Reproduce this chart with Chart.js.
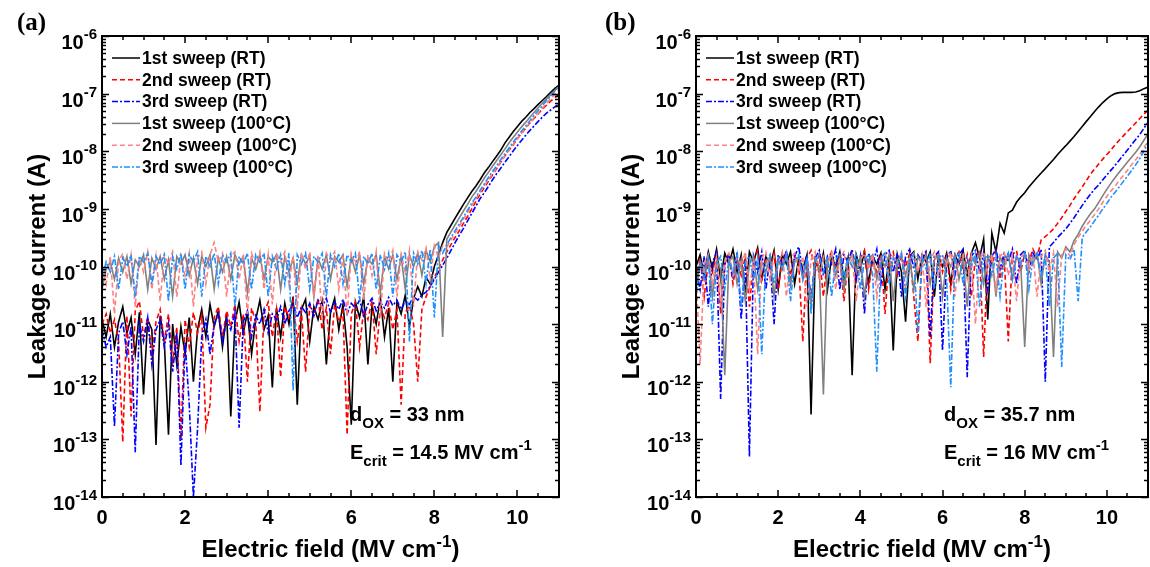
<!DOCTYPE html>
<html>
<head>
<meta charset="utf-8">
<script src="https://cdn.jsdelivr.net/npm/chart.js@4.4.1/dist/chart.umd.min.js"></script>
<style>
  html, body { margin: 0; padding: 0; background: #fff; overflow: hidden; }
  #wrap { position: relative; width: 1150px; height: 567px; overflow: hidden; }
  canvas { position: absolute; top: 0; }
</style>
</head>
<body>
<div id="wrap">
  <canvas id="chartA" width="578" height="567" style="left:0"></canvas>
  <canvas id="chartB" width="572" height="567" style="left:578px"></canvas>
</div>
<script>
// #region Data
// ---------------------------------------
// electric field (MV/cm), shared by every sweep
const field = [
  0, 0.1, 0.2, 0.3, 0.4, 0.5, 0.6, 0.7, 0.8, 0.9,
  1, 1.1, 1.2, 1.3, 1.4, 1.5, 1.6, 1.7, 1.8, 1.9,
  2, 2.1, 2.2, 2.3, 2.4, 2.5, 2.6, 2.7, 2.8, 2.9,
  3, 3.1, 3.2, 3.3, 3.4, 3.5, 3.6, 3.7, 3.8, 3.9,
  4, 4.1, 4.2, 4.3, 4.4, 4.5, 4.6, 4.7, 4.8, 4.9,
  5, 5.1, 5.2, 5.3, 5.4, 5.5, 5.6, 5.7, 5.8, 5.9,
  6, 6.1, 6.2, 6.3, 6.4, 6.5, 6.6, 6.7, 6.8, 6.9,
  7, 7.1, 7.2, 7.3, 7.4, 7.5, 7.6, 7.7, 7.8, 7.9,
  8, 8.1, 8.2, 8.3, 8.4, 8.5, 8.6, 8.7, 8.8, 8.9,
  9, 9.1, 9.2, 9.3, 9.4, 9.5, 9.6, 9.7, 9.8, 9.9,
  10, 10.1, 10.2, 10.3, 10.4, 10.5, 10.6, 10.7, 10.8, 10.9,
  11
];

const legendLabels = [
  "1st sweep (RT)", "2nd sweep (RT)", "3rd sweep (RT)",
  "1st sweep (100°C)", "2nd sweep (100°C)", "3rd sweep (100°C)"
];

// panel (a): d_OX = 33 nm, leakage current (A)
const a1stRT = [
  1.2e-11, 6e-12, 1.5e-11, 4e-12, 1.1e-11, 2e-11, 7e-12, 1.3e-11, 3e-12, 1.6e-11,
  6e-13, 1.2e-11, 8e-12, 8e-14, 1.4e-11, 5e-12, 1.2e-13, 1e-11, 2e-12, 9e-12,
  3e-12, 1.3e-11, 1e-12, 8e-12, 1.8e-11, 6e-12, 2.2e-11, 9e-12, 1.7e-11, 4e-12,
  1.5e-11, 2.5e-13, 1.1e-11, 2.4e-11, 7e-12, 1.6e-11, 3e-12, 1.2e-11, 2.6e-11, 8e-12,
  1.4e-11, 8e-13, 1.9e-11, 6e-12, 2.3e-11, 1e-11, 3e-11, 4e-13, 1.8e-11, 2.7e-11,
  5e-12, 2e-11, 1.2e-11, 2.5e-11, 2e-12, 1.6e-11, 2.8e-11, 8e-12, 2.2e-11, 4e-12,
  1.8e-13, 2.4e-11, 1.3e-11, 3e-11, 2e-12, 2.1e-11, 1e-11, 2.9e-11, 6e-12, 1.9e-11,
  1e-12, 2.5e-11, 1.5e-11, 3.2e-11, 9e-12, 2.8e-11, 4.5e-11, 3e-11, 6.5e-11, 5e-11,
  1e-10, 1.6e-10, 2.6e-10, 3.9e-10, 5.2e-10, 6.9e-10, 9.1e-10, 1.2e-9, 1.55e-9, 2e-9,
  2.5e-9, 3.2e-9, 4.2e-9, 5.2e-9, 6.6e-9, 8.3e-9, 1.05e-8, 1.4e-8, 1.75e-8, 2.2e-8,
  2.7e-8, 3.3e-8, 3.9e-8, 4.7e-8, 5.5e-8, 6.5e-8, 7.6e-8, 8.9e-8, 1.05e-7, 1.23e-7,
  1.4e-7
];
const a2ndRT = [
  1e-11, 1.5e-11, 7e-12, 1.2e-11, 5e-12, 9e-14, 1.4e-11, 2.5e-13, 1.7e-11, 2.5e-11,
  6e-12, 1.3e-11, 3e-12, 1.1e-11, 1.8e-11, 5e-12, 1.5e-11, 2e-12, 9e-12, 1e-13,
  1.2e-11, 4e-12, 1.6e-11, 7e-12, 1.4e-11, 1.6e-13, 4e-13, 1.3e-11, 2e-11, 6e-12,
  1.7e-11, 9e-12, 2.2e-11, 5e-12, 1.5e-11, 1e-12, 1.9e-11, 1.1e-11, 3e-13, 1.6e-11,
  2.4e-11, 6e-12, 1.8e-11, 1.2e-12, 2e-11, 1.3e-11, 2.6e-11, 5e-12, 1.7e-11, 1.5e-12,
  2.1e-11, 1.4e-11, 2.8e-11, 8e-12, 1.9e-11, 3e-12, 2.2e-11, 1.1e-11, 1.7e-11, 1.2e-13,
  1.5e-11, 2.4e-11, 4e-12, 1.8e-11, 1.2e-11, 2.6e-11, 3e-12, 1.9e-11, 1.3e-11, 2.3e-11,
  8e-12, 1.8e-11, 4e-13, 1.6e-11, 2.1e-11, 1e-11, 1e-12, 1.8e-11, 3e-11, 4.5e-11,
  6.5e-11, 9e-11, 1.3e-10, 1.8e-10, 2.4e-10, 3.2e-10, 4.2e-10, 5.6e-10, 7.4e-10, 1e-9,
  1.35e-9, 1.8e-9, 2.35e-9, 3e-9, 3.9e-9, 5e-9, 6.5e-9, 8.3e-9, 1.05e-8, 1.3e-8,
  1.66e-8, 2.05e-8, 2.5e-8, 3.1e-8, 3.7e-8, 4.5e-8, 5.4e-8, 6.3e-8, 7.4e-8, 8.5e-8,
  9.8e-8
];
const a3rdRT = [
  8e-12, 4e-12, 6e-12, 1.7e-13, 7e-12, 1.1e-11, 3e-12, 9e-12, 6e-14, 1e-11,
  5e-12, 1.3e-11, 2e-12, 8e-12, 1.2e-11, 4e-12, 1e-11, 1.5e-12, 7e-12, 3.5e-14,
  5e-12, 4e-13, 1e-14, 1.5e-13, 6e-12, 1.2e-11, 3e-12, 1e-11, 1.5e-11, 5e-12,
  1.2e-11, 8e-12, 1.6e-11, 1.6e-13, 1.1e-11, 1.7e-11, 6e-12, 1.4e-11, 1e-11, 1.8e-11,
  7e-12, 1.5e-11, 1.2e-11, 2e-11, 1e-11, 1.7e-11, 2.2e-11, 1.3e-11, 2e-11, 1.6e-11,
  2.3e-11, 1.4e-11, 2.6e-11, 2e-11, 2.8e-11, 1.6e-11, 2.4e-11, 1.8e-11, 2.7e-11, 1.5e-11,
  2.3e-11, 1.9e-11, 2.6e-11, 1.4e-11, 2.2e-11, 2.8e-11, 1.7e-11, 2.4e-11, 1.9e-11, 2.9e-11,
  2.1e-11, 2.6e-11, 1.8e-11, 2.5e-11, 2.2e-11, 3e-11, 2.6e-11, 3.2e-11, 3.6e-11, 4.5e-11,
  6e-11, 8e-11, 1.05e-10, 1.4e-10, 1.9e-10, 2.6e-10, 3.5e-10, 4.6e-10, 6.2e-10, 8.3e-10,
  1.12e-9, 1.5e-9, 1.9e-9, 2.45e-9, 3.2e-9, 4.1e-9, 5.1e-9, 6.5e-9, 8.1e-9, 1.02e-8,
  1.26e-8, 1.55e-8, 1.9e-8, 2.3e-8, 2.75e-8, 3.3e-8, 3.9e-8, 4.6e-8, 5.2e-8, 5.9e-8,
  6.6e-8
];
const a1stHot = [
  4e-11, 9e-11, 1.2e-10, 6e-11, 1.4e-10, 8e-11, 1.5e-10, 5e-11, 1.3e-10, 1e-10,
  1.6e-10, 4e-11, 1.4e-10, 9e-11, 1.5e-10, 6e-11, 1.3e-10, 3e-11, 1.5e-10, 1.1e-10,
  1.6e-10, 7e-11, 1.4e-10, 5e-11, 1.5e-10, 1e-10, 1.6e-10, 4e-11, 1.4e-10, 8e-11,
  1.5e-10, 6e-11, 1.6e-10, 1.1e-10, 1.5e-10, 3.5e-11, 1.4e-10, 9e-11, 1.6e-10, 6e-11,
  1.5e-10, 1.2e-10, 1.6e-10, 4e-11, 1.5e-10, 8e-11, 1.4e-10, 5e-11, 1.6e-10, 1.1e-10,
  1.5e-10, 3e-11, 1.4e-10, 9e-11, 1.6e-10, 6e-11, 1.5e-10, 1.2e-10, 1.6e-10, 4.5e-11,
  1.5e-10, 8e-11, 1.6e-10, 5e-11, 1.4e-10, 1.1e-10, 1.6e-10, 3.5e-11, 1.5e-10, 9e-11,
  1.6e-10, 6e-11, 1.5e-10, 4e-11, 1.6e-10, 1e-10, 1.7e-10, 7e-11, 1.9e-10, 1.2e-10,
  2.2e-10, 2.6e-10, 6e-12, 3e-10, 4e-10, 5.3e-10, 7e-10, 9.2e-10, 1.2e-9, 1.6e-9,
  2e-9, 2.6e-9, 3.4e-9, 4.3e-9, 5.5e-9, 6.9e-9, 8.7e-9, 1.1e-8, 1.4e-8, 1.75e-8,
  2.15e-8, 2.65e-8, 3.2e-8, 3.9e-8, 4.7e-8, 5.7e-8, 6.8e-8, 8.1e-8, 9.6e-8, 1.13e-7,
  1.32e-7
];
const a2ndHot = [
  1e-10, 5e-11, 1.5e-10, 1.5e-11, 1.2e-10, 1.7e-10, 6e-11, 1.6e-10, 2e-11, 1.4e-10,
  8e-11, 1.8e-10, 4e-11, 1.5e-10, 2.5e-11, 1.6e-10, 1.1e-10, 1.8e-10, 3e-11, 1.5e-10,
  7e-11, 1.7e-10, 2e-11, 1.4e-10, 1.8e-10, 5e-11, 1.6e-10, 2.6e-10, 1.2e-10, 1.7e-10,
  3e-11, 1.5e-10, 1.8e-10, 6e-11, 1.6e-10, 1.5e-11, 1.7e-10, 1.1e-10, 1.8e-10, 4e-11,
  1.6e-10, 2.2e-11, 1.7e-10, 1.2e-10, 1.8e-10, 5e-11, 1.5e-10, 1.8e-11, 1.7e-10, 9e-11,
  1.8e-10, 3e-11, 1.6e-10, 1.2e-11, 1.7e-10, 1.3e-10, 1.8e-10, 4e-11, 1.5e-10, 1.4e-11,
  1.7e-10, 1.1e-10, 1.8e-10, 2.5e-11, 1.6e-10, 7e-11, 1.8e-10, 1.3e-11, 1.7e-10, 1.2e-10,
  1.9e-10, 3e-11, 1.6e-10, 8e-11, 1.9e-10, 2e-11, 1.8e-10, 1.3e-10, 2.1e-10, 6e-11,
  2.3e-10, 1.4e-10, 2.3e-10, 2.2e-10, 2.9e-10, 3.8e-10, 5e-10, 6.6e-10, 8.7e-10, 1.15e-9,
  1.5e-9, 1.95e-9, 2.5e-9, 3.2e-9, 4.1e-9, 5.2e-9, 6.6e-9, 8.4e-9, 1.06e-8, 1.33e-8,
  1.66e-8, 2.05e-8, 2.55e-8, 3.1e-8, 3.8e-8, 4.6e-8, 5.6e-8, 6.8e-8, 8.2e-8, 9.8e-8,
  1.17e-7
];
const a3rdHot = [
  6e-11, 1.2e-10, 8e-11, 1.5e-10, 4e-11, 1.4e-10, 1e-10, 1.6e-10, 3e-11, 1.5e-10,
  1.2e-10, 1.7e-10, 5e-11, 1.5e-10, 1.1e-10, 1.6e-10, 2.5e-11, 1.5e-10, 9e-11, 1.7e-10,
  4e-11, 1.6e-10, 1.2e-10, 1.8e-10, 3e-11, 1.5e-10, 1e-10, 1.7e-10, 5e-11, 1.6e-10,
  1.2e-10, 1.7e-10, 2e-11, 1.5e-10, 1.1e-10, 1.7e-10, 4e-11, 1.6e-10, 1.2e-10, 1.7e-10,
  3e-11, 1.5e-10, 9e-11, 1.6e-10, 5e-11, 1.7e-10, 7e-13, 1.6e-10, 1.1e-10, 1.7e-10,
  4e-11, 1.5e-10, 1.2e-10, 1.7e-10, 3e-11, 1.6e-10, 1e-10, 1.7e-10, 5e-11, 1.6e-10,
  1.2e-10, 1.7e-10, 2.5e-11, 1.5e-10, 1.1e-10, 1.7e-10, 4e-11, 1.6e-10, 9e-11, 1.7e-10,
  3e-11, 1.6e-10, 1.2e-10, 1.8e-10, 5e-12, 1.7e-10, 1.1e-10, 1.9e-10, 5e-11, 2e-10,
  1.3e-11, 2.3e-10, 1.7e-10, 2.4e-10, 3.2e-10, 4.2e-10, 5.5e-10, 7.2e-10, 9.5e-10, 1.26e-9,
  1.6e-9, 2.1e-9, 2.7e-9, 3.5e-9, 4.5e-9, 5.6e-9, 7.2e-9, 9.1e-9, 1.15e-8, 1.45e-8,
  1.8e-8, 2.25e-8, 2.75e-8, 3.4e-8, 4.2e-8, 5.1e-8, 6.2e-8, 7.6e-8, 9.1e-8, 1.1e-7,
  1.35e-7
];

// panel (b): d_OX = 35.7 nm, leakage current (A)
const b1stRT = [
  1e-10, 1.6e-10, 7e-11, 1.8e-10, 9e-11, 2e-10, 6e-11, 1.7e-10, 1.1e-10, 2e-10,
  8e-11, 1.6e-10, 3e-11, 1.8e-10, 1.2e-10, 2.1e-10, 6e-11, 1.5e-10, 1e-10, 1.9e-10,
  4e-11, 1.6e-10, 1.1e-10, 1.8e-10, 5e-11, 1.4e-10, 9e-11, 1.6e-10, 2.7e-13, 1.3e-10,
  8e-11, 1.7e-10, 4e-11, 1.5e-10, 1e-10, 1.8e-10, 6e-11, 1.4e-10, 1.3e-12, 1.6e-10,
  9e-11, 1.8e-10, 5e-11, 1.5e-10, 1.1e-10, 1.7e-10, 4e-11, 1.4e-10, 3.5e-12, 1.6e-10,
  8e-11, 1.1e-11, 1.5e-10, 1.8e-10, 6e-11, 1.6e-10, 1.2e-10, 1.8e-10, 3e-11, 1.5e-10,
  1e-10, 1.7e-10, 5e-11, 1.6e-10, 1.1e-10, 1.9e-10, 7e-11, 1.7e-10, 2.6e-10, 1.4e-10,
  3e-10, 1.2e-11, 3.8e-10, 1.8e-10, 5.6e-10, 3.8e-10, 8.5e-10, 9.5e-10, 1.3e-9, 1.6e-9,
  1.9e-9, 2.4e-9, 2.9e-9, 3.5e-9, 4.2e-9, 5e-9, 6e-9, 7.2e-9, 8.8e-9, 1.05e-8,
  1.25e-8, 1.5e-8, 1.8e-8, 2.2e-8, 2.7e-8, 3.3e-8, 4e-8, 4.9e-8, 5.9e-8, 7e-8,
  8.1e-8, 9.2e-8, 1e-7, 1.04e-7, 1.05e-7, 1.05e-7, 1.05e-7, 1.07e-7, 1.12e-7, 1.22e-7,
  1.3e-7
];
const b2ndRT = [
  6e-11, 1.4e-10, 3e-11, 1.2e-10, 8e-11, 1.6e-10, 1.5e-11, 1.1e-10, 1.7e-10, 5e-11,
  1.3e-10, 7e-11, 1.5e-10, 2e-11, 1.2e-10, 1.9e-10, 6e-11, 1.4e-10, 9e-11, 1.7e-10,
  4e-11, 1.3e-10, 1.8e-10, 7e-11, 1.5e-10, 1.1e-10, 5e-12, 1.4e-10, 1.9e-10, 8e-11,
  1.6e-10, 3e-11, 1.3e-10, 1.8e-10, 9e-11, 1.5e-10, 2.5e-11, 1.2e-10, 1.7e-10, 6e-11,
  1.4e-10, 1.9e-10, 4e-11, 1.3e-10, 8e-11, 1.6e-10, 1.5e-11, 1.4e-10, 1.8e-10, 7e-11,
  1.5e-10, 1e-10, 1.7e-10, 3e-11, 5e-12, 1.4e-10, 1.8e-10, 2.1e-12, 1.3e-10, 1.7e-10,
  8e-11, 1.5e-10, 4e-11, 1.4e-10, 1.8e-10, 9e-11, 1.6e-10, 3e-11, 1.4e-10, 1.9e-10,
  2.7e-12, 1.5e-10, 1.1e-10, 1.8e-10, 6e-11, 1.5e-10, 5e-12, 1.6e-10, 1.9e-10, 8e-11,
  1.7e-10, 1.2e-10, 2e-10, 1.4e-10, 2.9e-10, 3.3e-10, 3.8e-10, 4.5e-10, 5.6e-10, 7e-10,
  9e-10, 1.15e-9, 1.5e-9, 1.9e-9, 2.4e-9, 3.1e-9, 4e-9, 4.9e-9, 6e-9, 7.3e-9,
  8.8e-9, 1.05e-8, 1.3e-8, 1.55e-8, 1.85e-8, 2.2e-8, 2.6e-8, 3.1e-8, 3.7e-8, 4.4e-8,
  5.2e-8
];
const b3rdRT = [
  9e-11, 4e-11, 1.5e-10, 2e-11, 1.2e-10, 1.7e-10, 5e-13, 1.1e-10, 1.6e-10, 6e-11,
  1.8e-10, 1.2e-11, 1.3e-10, 5e-14, 1.5e-10, 8e-11, 1.8e-10, 4e-11, 1.4e-10, 1e-11,
  1.6e-10, 1.1e-10, 1.9e-10, 5e-11, 1.5e-10, 2.2e-10, 8e-11, 1.6e-10, 2.5e-11, 1.4e-10,
  1.9e-10, 7e-11, 1.5e-10, 1.1e-10, 2e-10, 4e-11, 1.6e-10, 1.2e-10, 2e-10, 6e-11,
  1.5e-10, 1.5e-11, 1.7e-10, 1.1e-10, 2e-10, 5e-11, 1.6e-10, 1.9e-10, 8e-11, 1.7e-10,
  3e-11, 1.5e-10, 2e-10, 9e-11, 1.6e-10, 1.2e-10, 1.9e-10, 6e-12, 1.5e-10, 1.8e-10,
  3.5e-12, 1.4e-10, 1.9e-10, 7e-11, 1.6e-10, 2e-10, 1.2e-12, 1.5e-10, 1.9e-10, 8e-11,
  1.7e-10, 4e-11, 1.5e-10, 2e-10, 9e-11, 1.7e-10, 1.2e-10, 2e-10, 5e-11, 1.6e-10,
  1.9e-10, 8e-11, 1.7e-10, 1.3e-10, 2e-10, 1e-12, 2.2e-10, 2.6e-10, 3.2e-10, 3.8e-10,
  4.5e-10, 5.6e-10, 7e-10, 9e-10, 1.15e-9, 1.45e-9, 1.8e-9, 2.2e-9, 2.6e-9, 3.2e-9,
  3.9e-9, 4.7e-9, 5.7e-9, 7e-9, 8.6e-9, 1.05e-8, 1.3e-8, 1.6e-8, 1.95e-8, 2.5e-8,
  3.2e-8
];
const b1stHot = [
  5e-11, 1.2e-10, 8e-11, 1.5e-10, 3e-11, 1.3e-10, 9e-11, 1.3e-12, 1.2e-10, 1.5e-10,
  5e-11, 1.3e-10, 2.5e-11, 1.1e-10, 1.5e-10, 4e-11, 1.2e-10, 8e-11, 1.5e-10, 3e-11,
  1.3e-10, 9e-11, 1.6e-10, 5e-11, 1.2e-10, 1.5e-10, 6e-11, 1.3e-10, 2e-11, 1.4e-10,
  1e-10, 6e-13, 1.3e-10, 1.6e-10, 7e-11, 1.4e-10, 4e-11, 1.2e-10, 1.6e-10, 8e-11,
  1.4e-10, 3e-11, 1.3e-10, 1.6e-10, 6e-11, 1.4e-10, 1e-10, 1.6e-10, 2.5e-11, 1.3e-10,
  1.5e-10, 7e-11, 1.4e-10, 4e-11, 1.5e-10, 1.1e-10, 1.6e-10, 5e-11, 1.3e-10, 1.6e-10,
  3e-11, 1.4e-10, 1e-10, 1.6e-10, 6e-11, 1.4e-10, 2e-11, 1.5e-10, 1.1e-10, 1.7e-10,
  5e-11, 1.4e-10, 1.6e-10, 3e-11, 1.5e-10, 1e-10, 1.7e-10, 6e-11, 1.5e-10, 1.2e-10,
  4e-12, 1.6e-10, 1.1e-10, 1.7e-10, 5e-11, 1.6e-10, 1.2e-10, 2.7e-12, 1.8e-10, 1.4e-10,
  2.2e-10, 1.8e-10, 2.8e-10, 3.6e-10, 5e-10, 6.5e-10, 8.2e-10, 1e-9, 1.3e-9, 1.7e-9,
  2.2e-9, 2.8e-9, 3.5e-9, 4.3e-9, 5.3e-9, 6.5e-9, 7.9e-9, 9.6e-9, 1.2e-8, 1.55e-8,
  2e-8
];
const b2ndHot = [
  8e-11, 2e-12, 1.1e-10, 1.6e-10, 5e-11, 1.4e-10, 2e-11, 1.2e-10, 1.7e-10, 7e-11,
  1.5e-10, 1e-10, 1.8e-10, 4e-11, 1.3e-10, 3e-12, 1.4e-10, 1.8e-10, 6e-11, 1.5e-10,
  1.1e-10, 1.8e-10, 3e-11, 1.4e-10, 1.7e-10, 8e-11, 1.5e-10, 2e-11, 1.3e-10, 1.8e-10,
  6e-11, 1.5e-10, 1.1e-10, 1.7e-10, 4e-11, 1.4e-10, 1.8e-10, 7e-11, 1.5e-10, 2.5e-11,
  1.3e-10, 1.7e-10, 9e-11, 1.6e-10, 3e-11, 1.4e-10, 1.8e-10, 6e-11, 1.5e-10, 1.1e-10,
  1.8e-10, 4e-11, 1.4e-10, 1.7e-10, 8e-11, 1.6e-10, 2e-11, 1.3e-10, 1.8e-10, 7e-11,
  1.5e-10, 1.1e-10, 1.8e-10, 3e-11, 1.4e-10, 1.7e-10, 6e-11, 1.5e-10, 1e-11, 1.3e-10,
  1.8e-10, 8e-11, 1.6e-10, 4e-11, 1.5e-10, 1.8e-10, 7e-11, 1.6e-10, 2.5e-11, 1.4e-10,
  1.8e-10, 9e-11, 1.6e-10, 3e-11, 1.5e-10, 1.9e-10, 8e-11, 1.7e-10, 2e-11, 1.6e-10,
  2e-10, 1.5e-10, 2.4e-10, 3.2e-10, 4.1e-10, 5.2e-10, 6.4e-10, 8e-10, 1e-9, 1.3e-9,
  1.65e-9, 2.05e-9, 2.5e-9, 3.1e-9, 3.8e-9, 4.7e-9, 5.8e-9, 7.1e-9, 8.8e-9, 1.15e-8,
  1.5e-8
];
const b3rdHot = [
  3e-11, 1.2e-10, 6e-11, 1.4e-10, 1e-11, 1.1e-10, 1.5e-10, 4e-11, 1.3e-10, 8e-11,
  1.6e-10, 2e-11, 1.2e-10, 1.5e-10, 6e-11, 1.4e-10, 3e-12, 1.2e-10, 1.6e-10, 5e-11,
  1.4e-10, 9e-11, 1.7e-10, 2.5e-11, 1.3e-10, 1.6e-10, 6e-11, 1.4e-10, 1.5e-11, 1.2e-10,
  1.6e-10, 8e-11, 1.5e-10, 3e-11, 1.3e-10, 1.7e-10, 6e-11, 1.4e-10, 1e-10, 1.7e-10,
  4e-11, 1.3e-10, 1.6e-10, 7e-11, 1.5e-12, 1.4e-10, 1.7e-10, 5e-11, 1.4e-10, 1e-10,
  1.7e-10, 3e-11, 1.3e-10, 1.6e-10, 7e-12, 1.4e-10, 9e-11, 1.7e-10, 4e-11, 1.4e-10,
  1.6e-10, 6e-11, 8e-13, 1.4e-10, 1.7e-10, 5e-11, 1.4e-10, 1e-10, 1.7e-10, 2e-11,
  1.3e-10, 1.6e-10, 7e-11, 1.5e-10, 3e-11, 1.4e-10, 1.7e-10, 6e-11, 1.5e-10, 1.1e-10,
  1.7e-10, 4e-11, 1.4e-10, 1.7e-10, 7e-11, 1.5e-10, 2e-11, 1.4e-10, 1.7e-10, 1.8e-12,
  1.6e-10, 1.3e-10, 2e-10, 2.5e-11, 3.2e-10, 4e-10, 4.9e-10, 6.2e-10, 7.8e-10, 1e-9,
  1.25e-9, 1.6e-9, 1.95e-9, 2.4e-9, 3e-9, 3.7e-9, 4.6e-9, 5.8e-9, 7.5e-9, 1e-8,
  1.4e-8
];
// ---------------------------------------
// #endregion

// #region Styles
// ---------------------------------------
const FONT = '"Liberation Sans", Arial, Helvetica, sans-serif';
const lineColors = ["#000000", "#ff0000", "#0000ff", "#808080", "#ff8080", "#1e90ff"];
const lineDashes = [[], [5, 3], [6, 2, 2, 2], [], [5, 3], [6, 2, 2, 2]];

// draws a run of bold text pieces, each with its own size and vertical shift
const drawRich = (ctx, parts, x, y, align) => {
  let w = 0;
  parts.forEach((p) => {
    ctx.font = "bold " + p[1] + "px " + FONT;
    w += ctx.measureText(p[0]).width;
  });
  let cx = align === "right" ? x - w : align === "center" ? x - w / 2 : x;
  ctx.textAlign = "left";
  ctx.textBaseline = "alphabetic";
  parts.forEach((p) => {
    ctx.font = "bold " + p[1] + "px " + FONT;
    ctx.fillText(p[0], cx, y + p[2]);
    cx += ctx.measureText(p[0]).width;
  });
};

const decoPlugin = {
  id: "deco",
  afterDatasetsDraw(chart, args, opts) {
    const { ctx, chartArea: a } = chart;
    const xs = chart.scales.x;
    const ys = chart.scales.y;
    ctx.save();
    ctx.fillStyle = "#000";
    ctx.strokeStyle = "#000";

    // frame
    ctx.lineWidth = 2;
    ctx.strokeRect(a.left, a.top, a.right - a.left, a.bottom - a.top);

    // inward ticks on all four sides
    ctx.lineWidth = 1.5;
    ctx.beginPath();
    for (let v = 0; v <= 11; v += 0.5) {
      const px = Math.round(xs.getPixelForValue(v));
      const len = v % 2 === 0 ? 7 : 4;
      ctx.moveTo(px, a.bottom); ctx.lineTo(px, a.bottom - len);
      ctx.moveTo(px, a.top); ctx.lineTo(px, a.top + len);
    }
    for (let k = -14; k <= -6; k++) {
      for (let m = 1; m <= 9; m++) {
        if (k === -6 && m > 1) break;
        const py = Math.round(ys.getPixelForValue(m * Math.pow(10, k))) + 0.5;
        const len = m === 1 ? 7 : 4;
        ctx.moveTo(a.left, py); ctx.lineTo(a.left + len, py);
        ctx.moveTo(a.right, py); ctx.lineTo(a.right - len, py);
      }
    }
    ctx.stroke();

    // y tick labels 10^k
    for (let k = -14; k <= -6; k++) {
      const py = ys.getPixelForValue(Math.pow(10, k));
      drawRich(ctx, [["10", 20, 0], ["-" + -k, 15, -10]], a.left - 5, py + 13, "right");
    }
    // x tick labels
    ctx.font = "bold 20px " + FONT;
    ctx.textAlign = "center";
    ctx.textBaseline = "alphabetic";
    [0, 2, 4, 6, 8, 10].forEach((v) => {
      ctx.fillText(String(v), xs.getPixelForValue(v), a.bottom + 27);
    });

    // axis titles
    drawRich(ctx, [["Electric field (MV cm", 24, 0], ["-1", 17, -10], [")", 24, 0]],
      (a.left + a.right) / 2, a.bottom + 60, "center");
    ctx.save();
    ctx.translate(a.left - 64, (a.top + a.bottom) / 2);
    ctx.rotate(-Math.PI / 2);
    ctx.font = "bold 24px " + FONT;
    ctx.textAlign = "center";
    ctx.textBaseline = "middle";
    ctx.fillText("Leakage current (A)", 0, 0);
    ctx.restore();

    // legend
    chart.data.datasets.forEach((ds, i) => {
      const ly = a.top + 22 + i * 21.8;
      ctx.save();
      ctx.strokeStyle = ds.borderColor;
      ctx.lineWidth = 1.5;
      ctx.setLineDash(ds.borderDash);
      ctx.beginPath();
      ctx.moveTo(a.left + 10, ly);
      ctx.lineTo(a.left + 38, ly);
      ctx.stroke();
      ctx.restore();
      ctx.font = "bold 17.5px " + FONT;
      ctx.textAlign = "left";
      ctx.textBaseline = "middle";
      ctx.fillText(ds.label, a.left + 40, ly + 1);
    });

    // notes
    drawRich(ctx, opts.note1, a.left + 248, a.top + 385, "left");
    drawRich(ctx, opts.note2, a.left + 248, a.top + 423, "left");

    // panel tag
    ctx.font = "bold 25px \"Liberation Serif\", \"Times New Roman\", serif";
    ctx.textAlign = "left";
    ctx.textBaseline = "alphabetic";
    ctx.fillText(opts.tag, opts.tagX, 30);
    ctx.restore();
  },
};
// ---------------------------------------
// #endregion

// #region Charts
// ---------------------------------------
const makePanel = (id, series, yWidth, padRight, deco) => {
  new Chart(document.getElementById(id), {
    type: "line",
    data: {
      datasets: series.map((vals, i) => ({
        label: legendLabels[i],
        data: field.map((f, j) => ({ x: f, y: vals[j] })),
        borderColor: lineColors[i],
        borderDash: lineDashes[i],
        borderWidth: 1.6,
        pointRadius: 0,
        tension: 0,
        fill: false,
        order: 5 - i,
      })),
    },
    options: {
      responsive: false,
      animation: false,
      events: [],
      layout: { padding: { top: 36, right: padRight, left: 0, bottom: 0 } },
      plugins: { legend: { display: false }, tooltip: { enabled: false }, deco: deco },
      scales: {
        x: {
          type: "linear", min: 0, max: 11,
          grid: { display: false }, border: { display: false }, ticks: { display: false },
          afterFit: (s) => { s.height = 70; },
        },
        y: {
          type: "logarithmic", min: 1e-14, max: 1e-6,
          grid: { display: false }, border: { display: false }, ticks: { display: false },
          afterFit: (s) => { s.width = yWidth; },
        },
      },
    },
    plugins: [decoPlugin],
  });
};

makePanel("chartA", [a1stRT, a2ndRT, a3rdRT, a1stHot, a2ndHot, a3rdHot], 102, 19, {
  tag: "(a)", tagX: 17,
  note1: [["d", 20, 0], ["OX", 15, 7], [" = 33 nm", 20, 0]],
  note2: [["E", 20, 0], ["crit", 15, 7], [" = 14.5 MV cm", 20, 0], ["-1", 15, -9]],
});
makePanel("chartB", [b1stRT, b2ndRT, b3rdRT, b1stHot, b2ndHot, b3rdHot], 118, 2, {
  tag: "(b)", tagX: 27,
  note1: [["d", 20, 0], ["OX", 15, 7], [" = 35.7 nm", 20, 0]],
  note2: [["E", 20, 0], ["crit", 15, 7], [" = 16 MV cm", 20, 0], ["-1", 15, -9]],
});
// ---------------------------------------
// #endregion
</script>
</body>
</html>
